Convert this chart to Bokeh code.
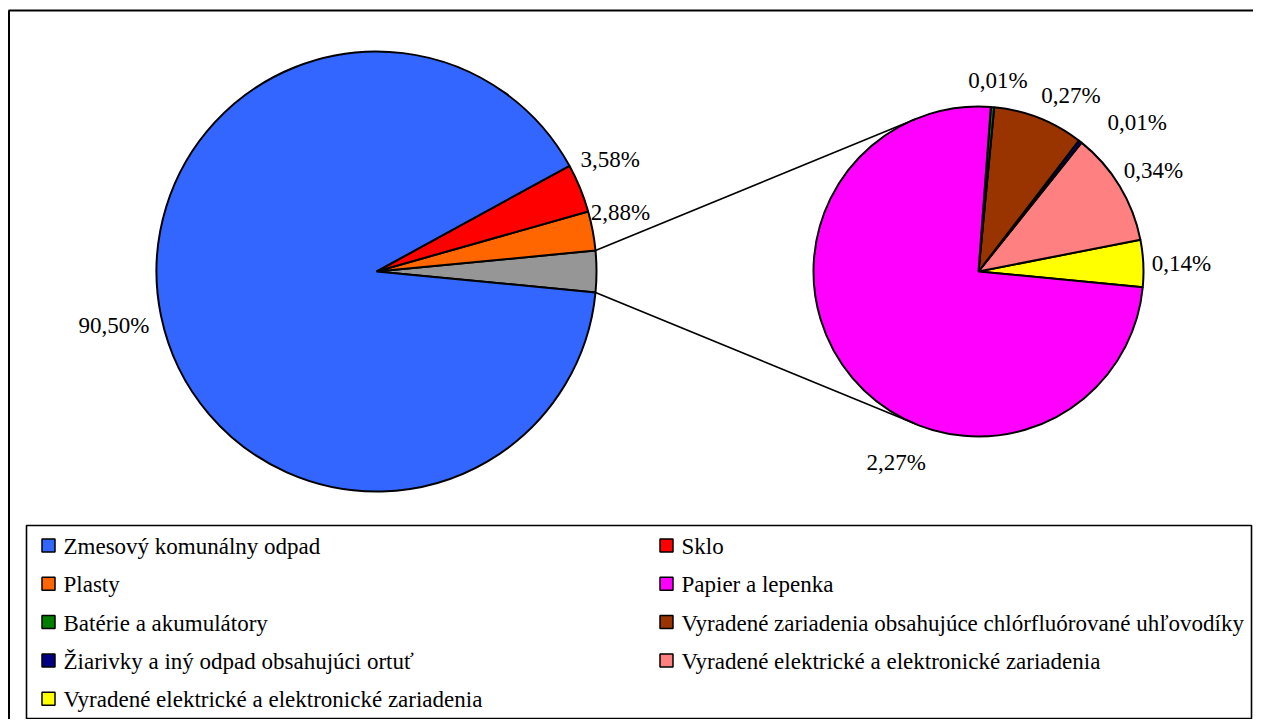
import numpy as np
from bokeh.plotting import figure
from bokeh.models import Range1d
from bokeh.core.properties import value
from bokeh.embed import file_html
from bokeh.resources import INLINE

# ---------------- data ----------------
categories = [
    "Zmesový komunálny odpad",
    "Sklo",
    "Plasty",
    "Papier a lepenka",
    "Batérie a akumulátory",
    "Vyradené zariadenia obsahujúce chlórfluórované uhľovodíky",
    "Žiarivky a iný odpad obsahujúci ortuť",
    "Vyradené elektrické a elektronické zariadenia",
    "Vyradené elektrické a elektronické zariadenia",
]
shares = [90.50, 3.58, 2.88, 2.27, 0.01, 0.27, 0.01, 0.34, 0.14]
colors = ["#3366FF", "#FF0000", "#FF6600", "#FF00FF", "#008000",
          "#993300", "#000080", "#FF8080", "#FFFF00"]
other_color = "#969696"
n_main = 3  # first three categories in the main pie, the rest in the secondary pie

# ---------------- layout ----------------
W, H = 1253, 719
FONT = "Liberation Serif"
main_c = (376.0, 448.0)
main_r = 220.0
sec_c = (978.0, 448.0)
sec_r = 165.0
# label nudges: (angle offset in degrees, distance beyond rim in px)
label_nudge = [(0, 48), (3.3, 39), (3.0, 31), (26.6, 43), (-0.9, 27),
               (-6.2, 34), (-8.7, 53), (-1.3, 37), (-0.5, 38)]

p = figure(width=W, height=H, x_range=Range1d(0, W), y_range=Range1d(0, H),
           output_backend="svg", toolbar_location=None,
           x_axis_location=None, y_axis_location=None,
           min_border=0, outline_line_color=None)
p.grid.visible = False
p.background_fill_color = "white"
p.border_fill_color = "white"

other_total = sum(shares[n_main:])
half_other = other_total * 3.6 / 2.0

def pie(center, radius, order, vals, cols, scale, start_deg):
    starts, ends = [], []
    a = start_deg
    spans = {}
    for key, v in zip(order, vals):
        s = a
        e = a + v * scale
        starts.append(np.radians(s))
        ends.append(np.radians(e))
        spans[key] = (s, e)
        a = e
    p.wedge(x=[center[0]] * len(vals), y=[center[1]] * len(vals), radius=radius,
            start_angle=starts, end_angle=ends, direction="anticlock",
            fill_color=cols, line_color="black", line_width=2)
    return spans

# main pie (counter-clockwise from the "other" slice)
main_order = ["other"] + list(range(n_main - 1, -1, -1))
main_vals = [other_total] + [shares[i] for i in range(n_main - 1, -1, -1)]
main_cols = [other_color] + [colors[i] for i in range(n_main - 1, -1, -1)]
main_spans = pie(main_c, main_r, main_order, main_vals, main_cols, 3.6, -half_other)

# secondary pie
sec_idx = list(range(len(shares) - 1, n_main - 1, -1))
sec_vals = [shares[i] for i in sec_idx]
sec_cols = [colors[i] for i in sec_idx]
sec_spans = pie(sec_c, sec_r, sec_idx, sec_vals, sec_cols, 360.0 / other_total, -half_other)

# connector lines: from the edges of the "other" slice, tangent to the secondary pie
def tangent(pt, c, r, upper):
    dx, dy = pt[0] - c[0], pt[1] - c[1]
    d = np.hypot(dx, dy)
    th = np.arctan2(dy, dx)
    al = np.arccos(r / d)
    t = th - al if upper else th + al
    return c[0] + r * np.cos(t), c[1] + r * np.sin(t)

s_o, e_o = main_spans["other"]
p_top = (main_c[0] + main_r * np.cos(np.radians(e_o)), main_c[1] + main_r * np.sin(np.radians(e_o)))
p_bot = (main_c[0] + main_r * np.cos(np.radians(s_o)), main_c[1] + main_r * np.sin(np.radians(s_o)))
t_top = tangent(p_top, sec_c, sec_r, True)
t_bot = tangent(p_bot, sec_c, sec_r, False)
p.segment(x0=[p_top[0], p_bot[0]], y0=[p_top[1], p_bot[1]],
          x1=[t_top[0], t_bot[0]], y1=[t_top[1], t_bot[1]],
          line_color="black", line_width=1.6)

# data labels
lx, ly, lt = [], [], []
for i, v in enumerate(shares):
    if i < n_main:
        c, r, (s, e) = main_c, main_r, main_spans[i]
    else:
        c, r, (s, e) = sec_c, sec_r, sec_spans[i]
    da, dr = label_nudge[i]
    a = np.radians((s + e) / 2 + da)
    lx.append(c[0] + (r + dr) * np.cos(a))
    ly.append(c[1] + (r + dr) * np.sin(a))
    lt.append(f"{v:.2f}".replace(".", ",") + "%")
p.text(x=lx, y=ly, text=lt, text_font=value(FONT), text_font_size="23px",
       text_align="center", text_baseline="middle", text_color="black")

# legend box
p.quad(left=[26], right=[1251], bottom=[1], top=[194],
       fill_color=None, line_color="black", line_width=1.6)
sw_x = [48, 666]
tx_x = [63, 681]
row_y0, row_dy = 719 - 545, 38.3
gx, gy, gc, tx, ty, tt = [], [], [], [], [], []
for i, cat in enumerate(categories):
    row, col = divmod(i, 2)
    y = row_y0 - row * row_dy
    gx.append(sw_x[col]); gy.append(y); gc.append(colors[i])
    tx.append(tx_x[col]); ty.append(y - 1); tt.append(cat)
p.rect(x=gx, y=gy, width=13, height=13, fill_color=gc, line_color="black", line_width=1.5)
p.text(x=tx, y=ty, text=tt, text_font=value(FONT), text_font_size="23px",
       text_align="left", text_baseline="middle", text_color="black")

# outer chart border (top and left visible)
p.segment(x0=[8, 8.5], y0=[709, 0], x1=[W, 8.5], y1=[709, 709],
          line_color="black", line_width=2)

open("out.html", "w").write(file_html(p, INLINE))
